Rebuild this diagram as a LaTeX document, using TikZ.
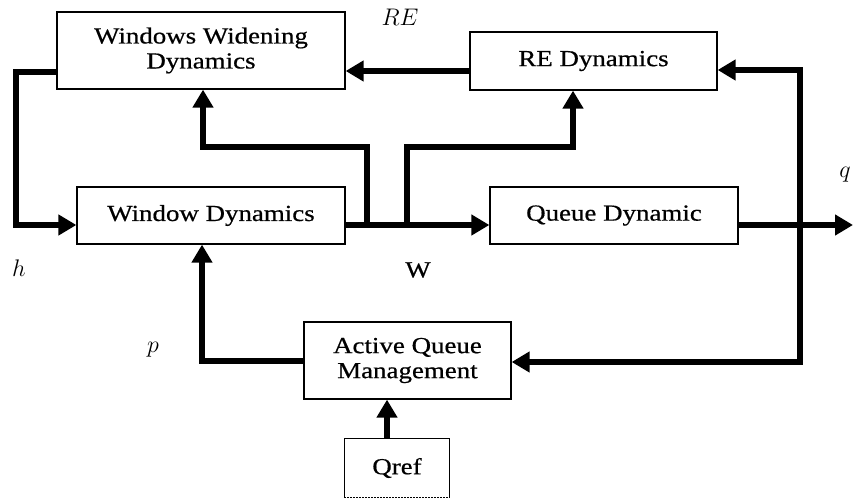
\documentclass[tikz,border=0pt]{standalone}
\usepackage{fix-cm}
\usepackage{fontspec}
\setmainfont{Liberation Serif}[FakeStretch=1.17,FakeBold=0.6]
\usetikzlibrary{arrows.meta}
\begin{document}
\begin{tikzpicture}[x=1pt,y=-1pt,
  box/.style={draw=black,line width=1.3pt,align=center,inner sep=0pt,
    font=\fontsize{23}{25}\selectfont},
  conn/.style={line width=6.5pt,line join=miter},
  arr/.style={conn,-{Triangle[length=18pt,width=20pt]}},
  lab/.style={font=\fontsize{24}{26}\selectfont,inner sep=0pt}]
\useasboundingbox (0,0) rectangle (853,502);
\fill[white] (0,0) rectangle (853,502);
% boxes
\node[box,minimum width=288pt,minimum height=77pt] (wwd) at (201,50.5) {Windows Widening\\Dynamics};
\node[box,minimum width=247pt,minimum height=58pt] (red) at (593.5,61) {RE Dynamics};
\node[box,minimum width=268pt,minimum height=57pt] (wd) at (211,215.5) {Window Dynamics};
\node[box,minimum width=248pt,minimum height=57pt] (qd) at (614,215.5) {Queue Dynamic};
\node[box,minimum width=207pt,minimum height=77pt] (aqm) at (407.5,360.5) {Active Queue\\Management};
\node[box,draw=none,minimum width=104pt,minimum height=58pt] (qref) at (397,468) {Qref};
\draw[line width=1.3pt] (qref.south west) -- (qref.north west) -- (qref.north east) -- (qref.south east);
\draw[line width=1.3pt,dash pattern=on 1.5pt off 1.5pt] (qref.south west) -- (qref.south east);
% coordinates
\coordinate (L1) at (16,72);
\coordinate (L2) at (16,225);
\coordinate (B1) at (367,225);
\coordinate (B2) at (367,147);
\coordinate (B3) at (203,147);
\coordinate (C1) at (407,225);
\coordinate (C2) at (407,147);
\coordinate (C3) at (573,147);
\coordinate (R1) at (0,71);
\coordinate (V1) at (800,70);
\coordinate (V2) at (800,362);
\coordinate (P1) at (202,361);
\coordinate (X1) at (387,0);
\coordinate (qout) at (853,225);
% connectors
\draw[arr] (L1 -| wwd.west) -- (L1) -- (L2) -- (L2 -| wd.west);
\draw[arr] (L2 -| wd.east) -- (L2 -| qd.west);
\draw[arr] (B1) -- (B2) -- (B3) -- (B3 |- wwd.south);
\draw[arr] (C1) -- (C2) -- (C3) -- (C3 |- red.south);
\draw[arr] (R1 -| red.west) -- (R1 -| wwd.east);
\draw[arr] (L2 -| qd.east) -- (qout);
\draw[conn,{Triangle[length=18pt,width=20pt]}-{Triangle[length=18pt,width=20pt]}] (V1 -| red.east) -- (V1) -- (V2) -- (V2 -| aqm.east);
\draw[arr] (P1 -| aqm.west) -- (P1) -- (P1 |- wd.south);
\draw[arr] (X1 |- qref.north) -- (X1 |- aqm.south);
% labels
\node[lab] (lre) at (400,17) {$RE$};
\node[lab] (lh) at (19,268) {$h$};
\node[lab,font=\fontsize{23}{25}\selectfont] (lw) at (418,270) {W};
\node[lab] (lp) at (153,350) {$p$};
\node[lab] (lq) at (845,175) {$q$};
\end{tikzpicture}
\end{document}
